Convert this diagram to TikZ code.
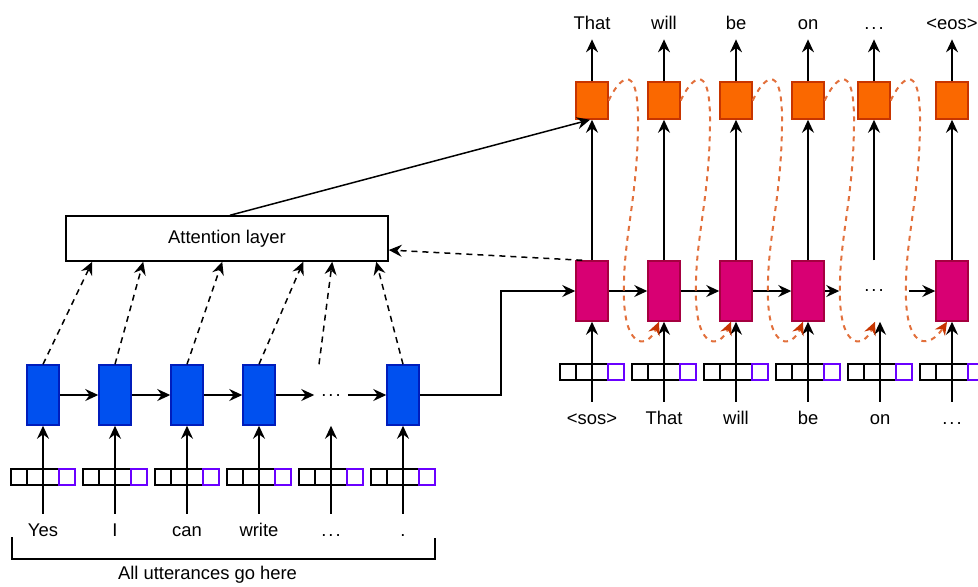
\documentclass[tikz,border=0pt]{standalone}
\usepackage{fontspec}
\setmainfont{Liberation Sans}
\usepackage{xcolor}
\usepackage{tikz}
\usetikzlibrary{arrows,arrows.meta,calc}

\definecolor{encblue}{HTML}{0050EF}
\definecolor{encedge}{HTML}{001DBC}
\definecolor{decpink}{HTML}{D80073}
\definecolor{decedge}{HTML}{A50040}
\definecolor{outorange}{HTML}{FA6800}
\definecolor{outedge}{HTML}{C73500}
\definecolor{cellviolet}{HTML}{6A00FF}
\definecolor{feedorange}{HTML}{E2703C}

\begin{document}
\begin{tikzpicture}[x=0.5pt,y=-0.5pt,
                    line width=0.75pt,
                    >={Stealth[length=6.5pt,width=6pt,inset=2.2pt]},
                    font=\fontsize{9.2}{11}\selectfont,
                    enc/.style={draw=encedge,fill=encblue,
                    minimum width=16pt,minimum height=30pt,inner sep=0pt},
                    dec/.style={draw=decedge,fill=decpink,
                    minimum width=16pt,minimum height=30pt,inner sep=0pt},
                    outc/.style={draw=outedge,fill=outorange,
                    minimum width=16pt,minimum height=18.5pt,inner sep=0pt},
                    gap/.style={minimum width=16pt,minimum height=30pt,inner sep=0pt},
                    cell/.style={draw,minimum size=8pt,inner sep=0pt},
                    lastcell/.style={draw=cellviolet,minimum size=8pt,inner sep=0pt},
                    word/.style={text height=6.8pt,text depth=1.8pt,inner sep=4pt},
                    attn/.style={dash pattern=on 3pt off 2.5pt},
                    prevout/.style={draw=feedorange,line width=1pt,
                    dash pattern=on 2.5pt off 2.5pt,
                    -{Stealth[length=6.5pt,width=6pt,inset=2.2pt,color=outedge]}}]
    \clip (0,0) rectangle (978,586);

    % encoder
    \foreach \x/\n in {43/1,115/2,187/3,259/4,403/6}
        \node[enc] (e\n) at (\x,395) {};
    \node[gap] (e5) at (331,395) {.\kern1pt.\kern1pt.};
    \foreach \x/\n/\w in {43/1/Yes,115/2/I,187/3/can,259/4/write,331/5/{.\kern1pt.\kern1pt.},403/6/.}{
        \node[word] (w\n) at (\x,531) {\w};
        \foreach \k [count=\j] in {-24,-8,8}
            \node[cell] (v\n\j) at ({\x+\k},477) {};
        \node[lastcell] (v\n4) at ({\x+24},477) {};
        \draw[->] (w\n.north) -- (e\n.south);
    }
    \foreach \a/\b in {1/2,2/3,3/4,4/5,5/6}
        \draw[->] (e\a.east) -- (e\b.west);

    \node (all) at (207.5,575) {All utterances go here};
    \draw (12,537) |- (435,559) -- (435,538);

    \node[draw,fill=white,minimum width=161pt,minimum height=22.5pt] (att) at (227,238.5) {Attention layer};
    \foreach \n/\s in {1/13.5,2/39,3/78.5,4/119,6/155.5}
        \draw[->,attn] (e\n.north) -- ([xshift=\s pt]att.south west);
    \draw[->,attn] ([xshift=-6pt]e5.north) -- ([xshift=133.5pt]att.south west);

    % decoder
    \foreach \x/\n in {592/1,664/2,736/3,808/4,952/6}{
        \node[dec] (d\n) at (\x,291) {};
        \node[outc] (o\n) at (\x,100.5) {};
    }
    \node[gap,minimum width=34pt] (d5) at (874,291) {.\kern1pt.\kern1pt.};
    \node[outc] (o5) at (874,100.5) {};

    \foreach \x/\n/\w in {592/1/That,664/2/will,736/3/be,808/4/on,874/5/{.\kern1pt.\kern1pt.},952/6/<eos>}{
        \node[word,inner sep=3pt] (y\n) at (\x,24) {\w};
        \draw[->] (o\n.north) -- (y\n.south);
        \draw[->] (d\n.north) -- (o\n.south);
    }
    \foreach \x/\n/\w in {592/1/<sos>,664/2/That,736/3/will,808/4/be,880/5/on,952/6/{.\kern1pt.\kern1pt.}}{
        \node[word] (i\n) at (\x,419) {\w};
        \foreach \k [count=\j] in {-24,-8,8}
            \node[cell] (u\n\j) at ({\x+\k},372) {};
        \node[lastcell] (u\n4) at ({\x+24},372) {};
        \coordinate (t\n) at (i\n.north |- d\n.south);
        \draw[->] (i\n.north) -- (t\n);
    }

    \draw[->] (e6.east) -- ++(40.5pt,0) |- (d1.west);
    \foreach \a/\b in {1/2,2/3,3/4,4/5,5/6}
        \draw[->] (d\a.east) -- (d\b.west);

    \draw[->] ([xshift=1.5pt]att.north) -- ([xshift=-1pt]o1.south);
    \draw[->,attn] ([xshift=3.5pt]d1.north west) -- ([yshift=-5.75pt]att.east);

    % previous output fed back
    \foreach \c/\a/\b in {592/1/2,664/2/3,736/3/4,808/4/5,874/5/6}
        \draw[prevout] (o\a.east) .. controls ({\c+26},80) and ({\c+46},58) .. ({\c+46},120)
            .. controls ({\c+46},200) and ({\c+30},240) .. ({\c+32},300)
            .. controls ({\c+34},350) and ({\c+56},348) .. ([xshift=-2.5pt]t\b);
\end{tikzpicture}
\end{document}
